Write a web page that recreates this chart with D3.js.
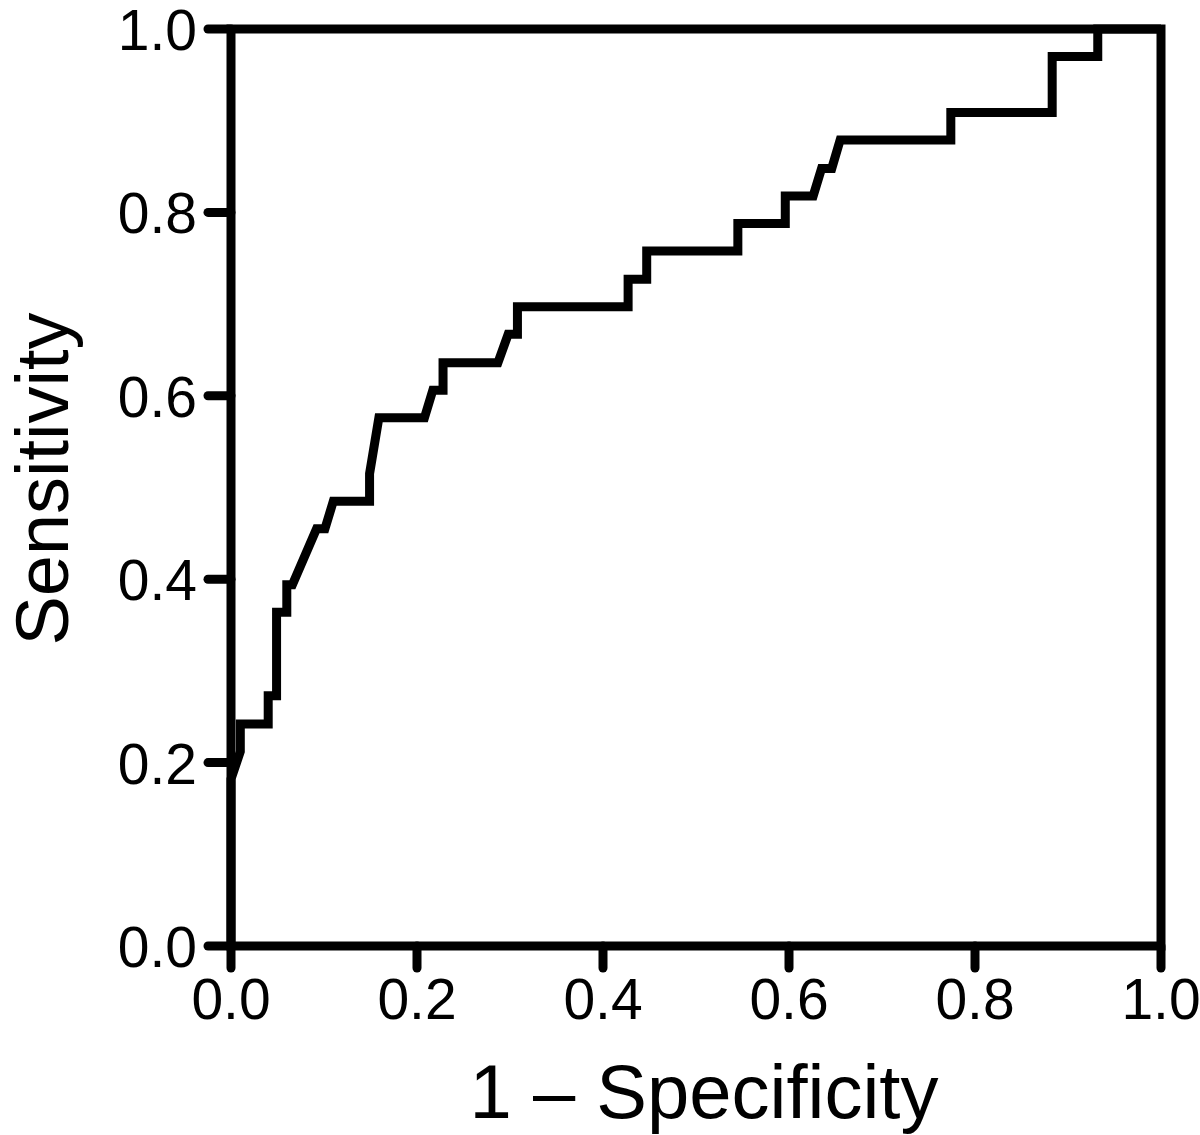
<!DOCTYPE html>
<html>
<head>
<meta charset="utf-8">
<script src="https://cdn.jsdelivr.net/npm/d3@7"></script>
<style>
  html, body { margin: 0; padding: 0; background: #fff; }
  svg { display: block; }
  text { font-family: Arial, "Liberation Sans", Helvetica, sans-serif; fill: #000; }
</style>
</head>
<body>
<svg id="chart" width="1200" height="1135"></svg>
<script>
// ROC curve points (1 - specificity, sensitivity)
const fpr = [0, 0, 0.010, 0.010, 0.040, 0.040, 0.049, 0.049, 0.060, 0.060, 0.066, 0.092, 0.101, 0.110, 0.149, 0.149, 0.159, 0.208, 0.217, 0.228, 0.228, 0.287, 0.298, 0.308, 0.308, 0.427, 0.427, 0.447, 0.447, 0.545, 0.545, 0.596, 0.596, 0.626, 0.635, 0.646, 0.655, 0.774, 0.774, 0.883, 0.883, 0.932, 0.932, 1.0];
const tpr = [0, 0.182, 0.212, 0.242, 0.242, 0.273, 0.273, 0.364, 0.364, 0.394, 0.394, 0.455, 0.455, 0.485, 0.485, 0.515, 0.576, 0.576, 0.606, 0.606, 0.636, 0.636, 0.667, 0.667, 0.697, 0.697, 0.727, 0.727, 0.758, 0.758, 0.788, 0.788, 0.818, 0.818, 0.848, 0.848, 0.879, 0.879, 0.909, 0.909, 0.970, 0.970, 1.0, 1.0];
const xTicks = [0, 0.2, 0.4, 0.6, 0.8, 1.0];
const yTicks = [0, 0.2, 0.4, 0.6, 0.8, 1.0];
const xTitle = "1 \u2013 Specificity";
const yTitle = "Sensitivity";

const svg = d3.select("#chart");
const x = d3.scaleLinear().domain([0, 1]).range([231, 1161]);
const y = d3.scaleLinear().domain([0, 1]).range([946, 29]);
const SW = 9;
const fmt = d3.format(".1f");

// curve
const pts = fpr.map((v, i) => [v, tpr[i]]);
svg.append("path")
  .datum(pts)
  .attr("d", d3.line().x(d => x(d[0])).y(d => y(d[1])))
  .attr("fill", "none")
  .attr("stroke", "#000")
  .attr("stroke-width", SW)
  .attr("stroke-linejoin", "miter")
  .attr("stroke-linecap", "butt");

// frame
svg.append("rect")
  .attr("x", x(0)).attr("y", y(1))
  .attr("width", x(1) - x(0)).attr("height", y(0) - y(1))
  .attr("fill", "none").attr("stroke", "#000").attr("stroke-width", SW);

// y ticks
const gy = svg.append("g");
gy.selectAll("line").data(yTicks).join("line")
  .attr("x1", x(0) - 23).attr("x2", x(0))
  .attr("y1", d => y(d)).attr("y2", d => y(d))
  .attr("stroke", "#000").attr("stroke-width", SW).attr("stroke-linecap", "round");
gy.selectAll("text").data(yTicks).join("text")
  .attr("x", 197).attr("y", d => y(d) + 21)
  .attr("text-anchor", "end")
  .attr("font-size", 57)
  .text(d => fmt(d));

// x ticks
const gx = svg.append("g");
gx.selectAll("line").data(xTicks).join("line")
  .attr("x1", d => x(d)).attr("x2", d => x(d))
  .attr("y1", y(0)).attr("y2", y(0) + 22)
  .attr("stroke", "#000").attr("stroke-width", SW).attr("stroke-linecap", "round");
gx.selectAll("text").data(xTicks).join("text")
  .attr("x", d => x(d)).attr("y", 1019)
  .attr("text-anchor", "middle")
  .attr("font-size", 57)
  .text(d => fmt(d));

// titles
svg.append("text")
  .attr("x", 704).attr("y", 1118)
  .attr("text-anchor", "middle")
  .attr("font-size", 76)
  .text(xTitle);
svg.append("text")
  .attr("transform", "translate(68,479) rotate(-90)")
  .attr("text-anchor", "middle")
  .attr("font-size", 74)
  .text(yTitle);
</script>
</body>
</html>
